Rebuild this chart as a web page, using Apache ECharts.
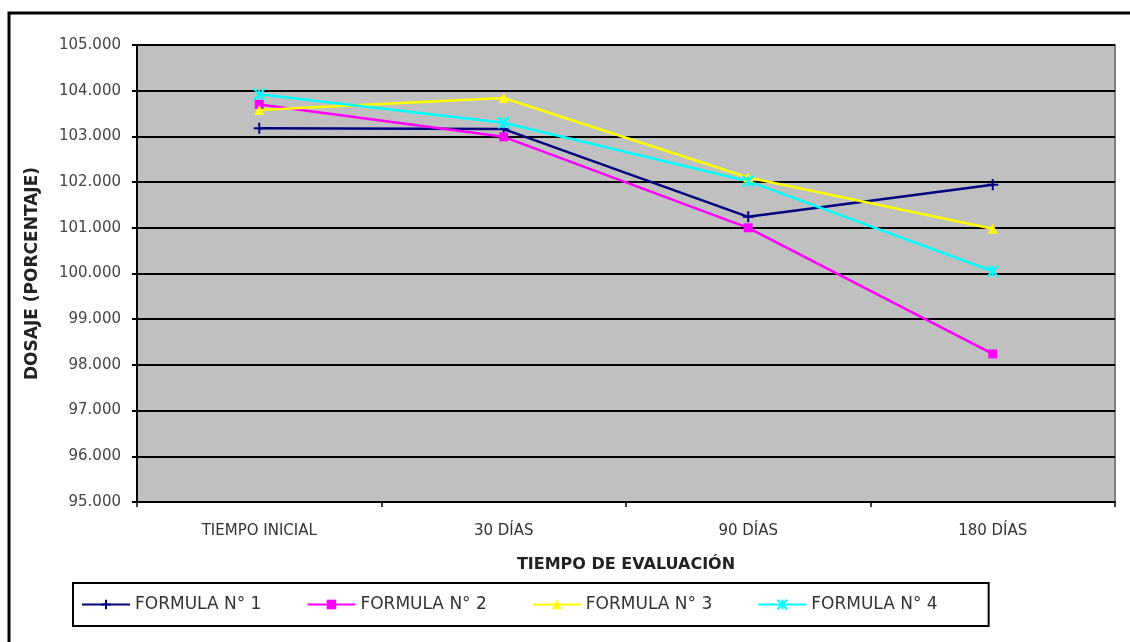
<!DOCTYPE html>
<html>
<head>
<meta charset="utf-8">
<script src="https://cdn.jsdelivr.net/npm/echarts@6/dist/echarts.min.js"></script>
<style>
html,body{margin:0;padding:0;background:#fff;}
#chart{width:1130px;height:642px;}
</style>
</head>
<body>
<div id="chart"></div>
<script>
const categories = ['TIEMPO INICIAL', '30 DÍAS', '90 DÍAS', '180 DÍAS'];
const seriesNames = ['FORMULA N° 1', 'FORMULA N° 2', 'FORMULA N° 3', 'FORMULA N° 4'];
const formula1 = [103.18, 103.16, 101.24, 101.94];
const formula2 = [103.70, 102.99, 101.00, 98.24];
const formula3 = [103.58, 103.84, 102.10, 100.98];
const formula4 = [103.92, 103.30, 102.02, 100.05];
const yMin = 95, yMax = 105, yStep = 1;

const FONT = 'DejaVu Sans';
const colors = ['#000080', '#FF00FF', '#FFFF00', '#00FFFF'];
const symbols = [
  'path://M0,5L10,5M5,0L5,10',
  'rect',
  'triangle',
  'path://M0,0L10,10M10,0L0,10M5,0L5,10'
];
const symbolSizes = [11, 9, 10, 11];
const dataSets = [formula1, formula2, formula3, formula4];

const series = dataSets.map((d, i) => ({
  name: seriesNames[i],
  type: 'line',
  data: d,
  symbol: symbols[i],
  symbolSize: symbolSizes[i],
  showAllSymbol: true,
  lineStyle: { color: colors[i], width: 2.5 },
  itemStyle: { color: colors[i], borderColor: colors[i], borderWidth: (i === 0 || i === 3) ? 2 : 0 },
  emphasis: { disabled: true },
  animation: false
}));

const chart = echarts.init(document.getElementById('chart'), null, { renderer: 'canvas' });
chart.setOption({
  backgroundColor: '#ffffff',
  animation: false,
  graphic: [{
    type: 'rect',
    shape: { x: 9, y: 13, width: 1200, height: 700 },
    style: { fill: 'none', stroke: '#000', lineWidth: 3 },
    silent: true
  }],
  grid: {
    left: 137, top: 45, right: 15, bottom: 140,
    show: true, backgroundColor: '#c0c0c0',
    borderColor: '#808080', borderWidth: 2
  },
  legend: {
    data: seriesNames,
    left: 73, top: 583,
    orient: 'horizontal',
    padding: [13, 51, 13, 8],
    itemGap: 45,
    itemWidth: 48,
    itemHeight: 12,
    borderColor: '#000',
    borderWidth: 2,
    backgroundColor: '#fff',
    textStyle: { fontFamily: FONT, fontSize: 17, color: '#333' }
  },
  xAxis: {
    type: 'category',
    data: categories,
    boundaryGap: true,
    name: 'TIEMPO DE EVALUACIÓN',
    nameLocation: 'middle',
    nameGap: 55,
    nameTextStyle: { fontFamily: FONT, fontSize: 16, fontWeight: 'bold', color: '#222' },
    axisLine: { lineStyle: { color: '#000', width: 2 } },
    axisTick: { show: true, length: 5, lineStyle: { color: '#000', width: 1.5 } },
    axisLabel: { fontFamily: FONT, fontSize: 15, color: '#333', margin: 22 },
    splitLine: { show: false }
  },
  yAxis: {
    type: 'value',
    min: yMin, max: yMax, interval: yStep,
    name: 'DOSAJE (PORCENTAJE)',
    nameLocation: 'middle',
    nameRotate: 90,
    nameGap: 96,
    nameTextStyle: { fontFamily: FONT, fontSize: 17, fontWeight: 'bold', color: '#222' },
    axisLine: { show: true, lineStyle: { color: '#000', width: 2 } },
    axisTick: { show: true, length: 5, lineStyle: { color: '#000', width: 2 } },
    axisLabel: {
      fontFamily: FONT, fontSize: 15, color: '#444', margin: 16,
      formatter: v => v.toFixed(3)
    },
    splitLine: { show: true, lineStyle: { color: '#000', width: 2 } }
  },
  series: series
});
</script>
</body>
</html>
